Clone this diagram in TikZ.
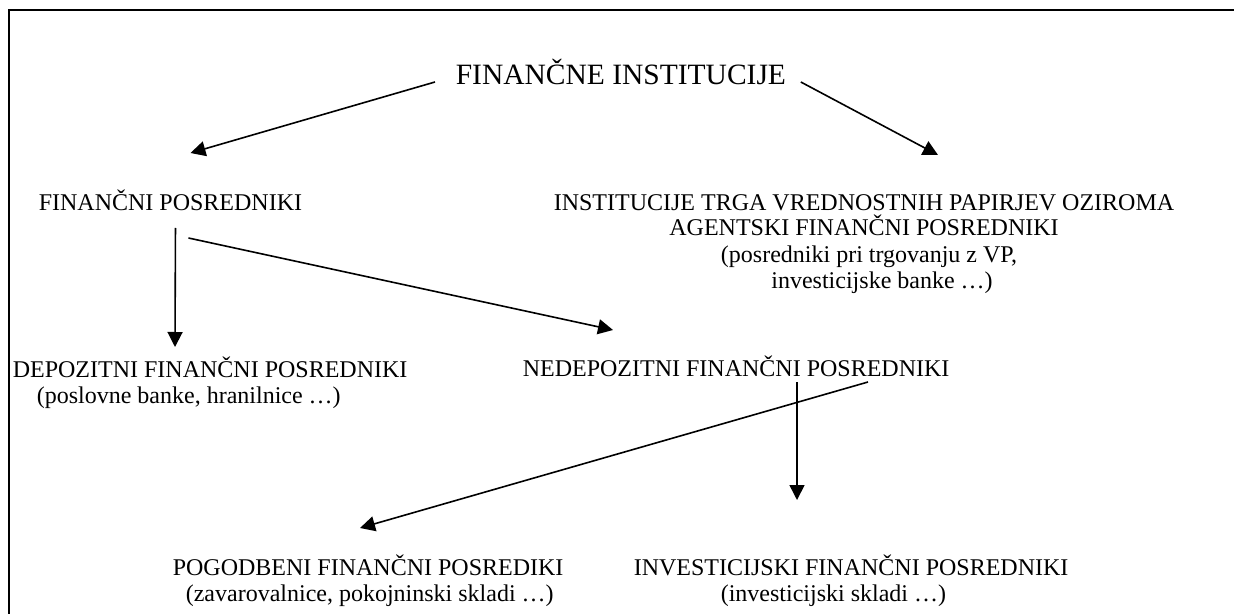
\documentclass[tikz,border=0pt]{standalone}
\usepackage{fontspec}
\setmainfont{Liberation Serif}
\usetikzlibrary{arrows.meta}
\begin{document}
\begin{tikzpicture}[x=0.5pt,y=-0.5pt,line width=0.8pt,
  txt/.style={inner sep=0pt,anchor=base west,align=left,font=\fontsize{12}{13}\selectfont},
  ttl/.style={inner sep=0pt,anchor=base west,font=\fontsize{14.75}{17}\selectfont},
  arr/.style={-{Triangle[length=7.5pt,width=7.5pt]}}]
\path[use as bounding box] (0,0) rectangle (1234,614);
\draw[line width=1pt] (9,614)--(9,10)--(1234,10);
% boxes (base = last line)
\node[ttl] (fi) at (455,85) {FINANČNE INSTITUCIJE};
\node[txt] (fp) at (38,211) {FINANČNI POSREDNIKI};
\node[txt,align=center] (itvp) at (553,288) {INSTITUCIJE TRGA VREDNOSTNIH PAPIRJEV OZIROMA\\
  AGENTSKI FINANČNI POSREDNIKI\\\hspace*{5pt}(posredniki pri trgovanju z VP,\\
  \hspace*{18pt}investicijske banke …)};
\node[txt] (dfp) at (12,403) {DEPOZITNI FINANČNI POSREDNIKI\\
  \hspace*{12pt}(poslovne banke, hranilnice …)};
\node[txt] (nfp) at (522,376) {NEDEPOZITNI FINANČNI POSREDNIKI};
\node[txt] (pfp) at (172,601) {POGODBENI FINANČNI POSREDIKI\\
  \hspace*{6.5pt}(zavarovalnice, pokojninski skladi …)};
\node[txt] (ifp) at (633,601) {INVESTICIJSKI FINANČNI POSREDNIKI\\
  \hspace*{43.5pt}(investicijski skladi …)};
% arrows
\draw[arr] ([shift={(-20,-3)}]fi.base west) -- ([shift={(20,-58)}]fp.base);
\draw[arr] ([shift={(14,-3)}]fi.base east) -- ([shift={(385,-133)}]itvp.base west);
\draw[arr] ([shift={(5,17)}]fp.base) -- ([shift={(163,-56)}]dfp.base west);
\draw[arr] ([shift={(18,27)}]fp.base) -- ([shift={(91,-46)}]nfp.base west);
\draw[arr] ([shift={(346,6)}]nfp.base west) -- ([shift={(188,-73)}]pfp.base west);
\draw[arr] ([shift={(275,6)}]nfp.base west) -- ([shift={(164,-101)}]ifp.base west);
\end{tikzpicture}
\end{document}
